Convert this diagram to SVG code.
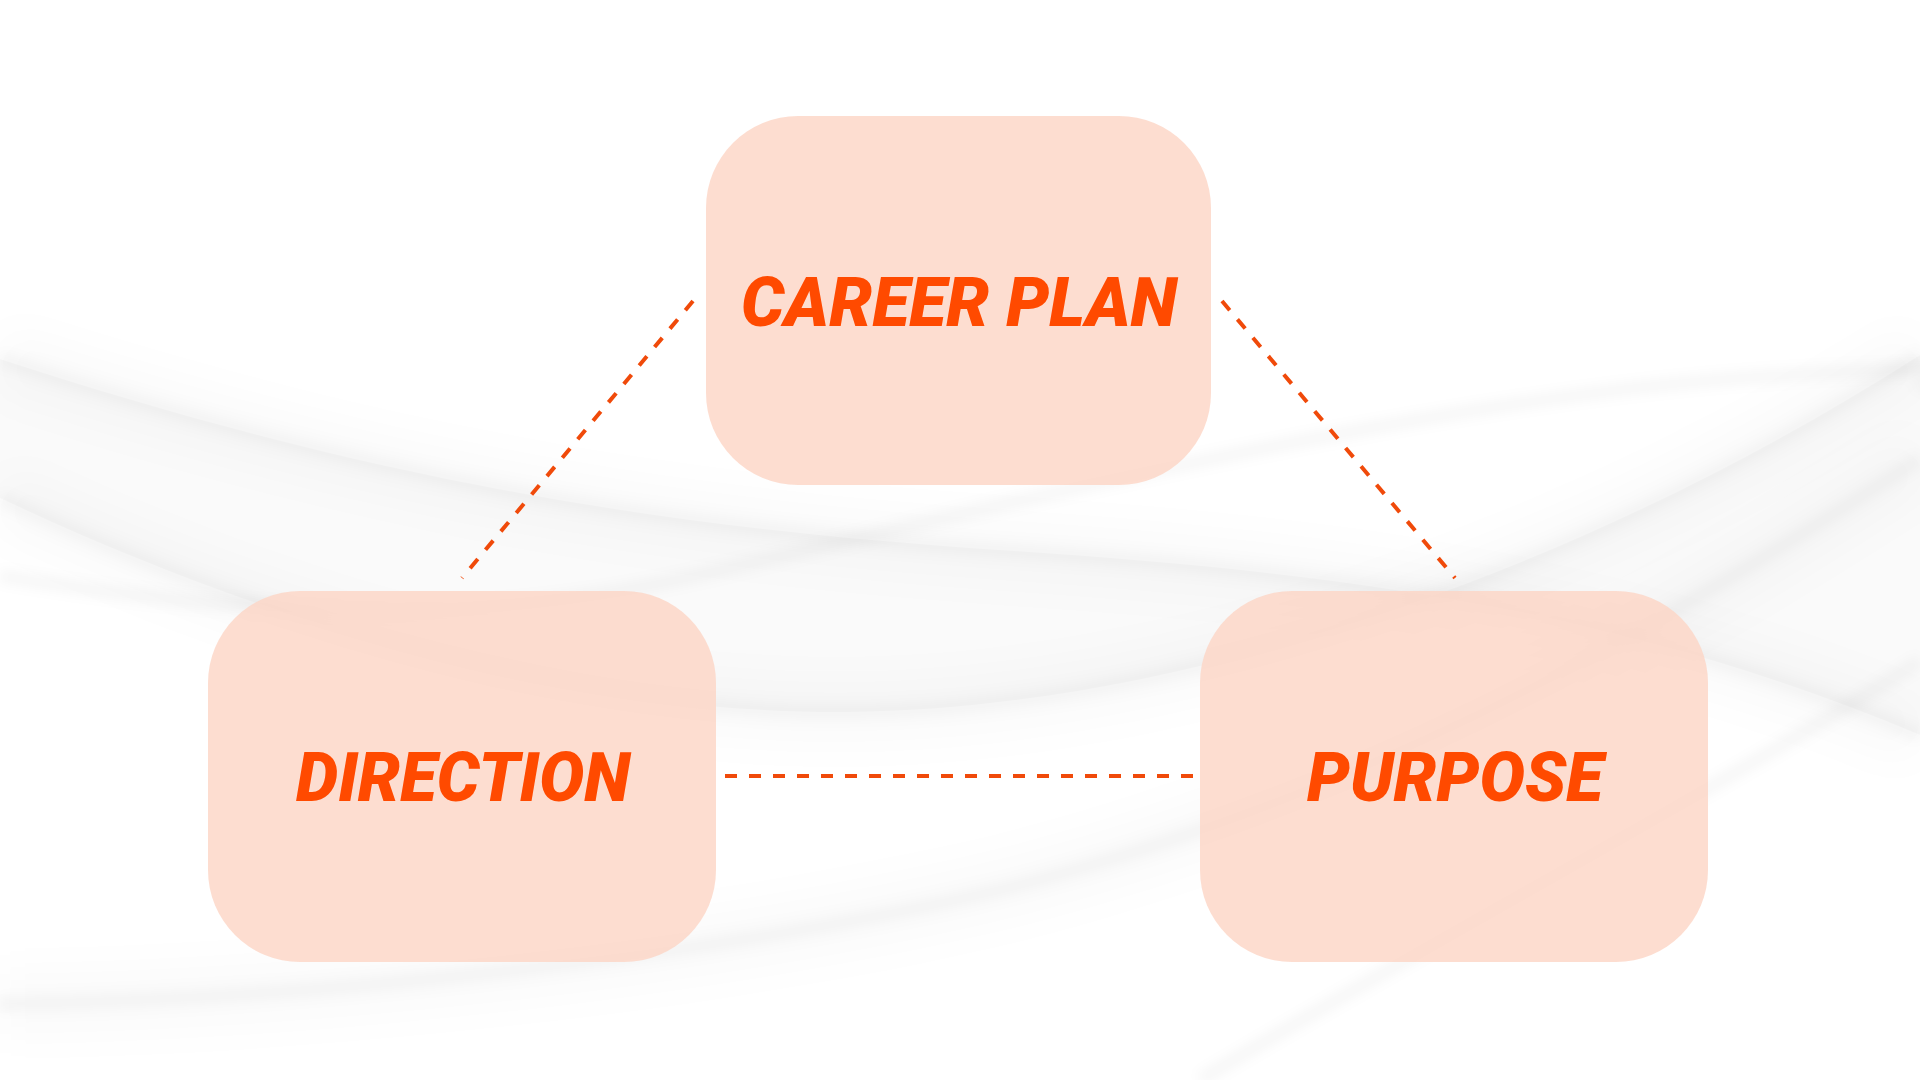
<svg xmlns="http://www.w3.org/2000/svg" width="1920" height="1080" viewBox="0 0 1920 1080">
  <style>
    .box { fill: #FDD6C6; fill-opacity: 0.82; }
    .label { font-family: Roboto, "Liberation Sans", sans-serif; font-weight: 900; font-style: italic; font-size: 68px; fill: #FF4A00; text-anchor: middle; }
    .conn { stroke: #F04A0A; stroke-width: 4; stroke-dasharray: 12 12; fill: none; }
    .wave { fill: none; stroke: #000; stroke-opacity: 0.03; stroke-width: 14; filter: url(#soft); }
    .glow { fill: none; stroke: #000; stroke-opacity: 0.018; stroke-width: 60; filter: url(#soft2); }
  </style>
  <defs>
    <filter id="soft" x="-10%" y="-20%" width="120%" height="140%">
      <feGaussianBlur stdDeviation="6"/>
    </filter>
    <filter id="soft2" x="-10%" y="-30%" width="120%" height="160%">
      <feGaussianBlur stdDeviation="20"/>
    </filter>
  </defs>

  <rect width="1920" height="1080" fill="#FFFFFF"/>

  <g id="background">
    <path fill="#000" fill-opacity="0.018" d="M0,359 C400,490 700,530 1000,550 S1600,600 1920,735 L1920,355 C1600,560 1200,708 850,712 C600,715 300,640 0,498 Z"/>
    <path class="glow" d="M0,359 C400,490 700,530 1000,550 S1600,600 1920,735"/>
    <path class="glow" d="M0,498 C300,640 600,715 850,712 C1200,708 1600,560 1920,355"/>
    <path class="glow" d="M0,1004 C300,1000 700,960 1000,890 C1400,790 1700,600 1920,459"/>
    <path class="wave" d="M0,359 C400,490 700,530 1000,550 S1600,600 1920,735"/>
    <path class="wave" d="M0,498 C300,640 600,715 850,712 C1200,708 1600,560 1920,355"/>
    <path class="wave" d="M0,576 C300,625 500,620 700,575 S1400,400 1756,377 S1920,385 1920,390"/>
    <path class="wave" d="M0,1004 C300,1000 700,960 1000,890 C1400,790 1700,600 1920,459"/>
    <path class="wave" d="M1200,1080 C1450,930 1700,800 1920,661"/>
  </g>

  <g id="connectors">
    <line class="conn" x1="693" y1="301" x2="462" y2="578"/>
    <line class="conn" x1="1222" y1="301" x2="1455" y2="578"/>
    <line class="conn" x1="725" y1="776" x2="1193" y2="776"/>
  </g>

  <g id="node-career-plan">
    <rect class="box" x="706" y="116" width="505" height="369" rx="92" ry="92"/>
    <text class="label" x="959" y="326" textLength="436" lengthAdjust="spacingAndGlyphs">CAREER PLAN</text>
  </g>

  <g id="node-direction">
    <rect class="box" x="208" y="591" width="508" height="371" rx="92" ry="92"/>
    <text class="label" x="463" y="801" textLength="334" lengthAdjust="spacingAndGlyphs">DIRECTION</text>
  </g>

  <g id="node-purpose">
    <rect class="box" x="1200" y="591" width="508" height="371" rx="92" ry="92"/>
    <text class="label" x="1455" y="801" textLength="296" lengthAdjust="spacingAndGlyphs">PURPOSE</text>
  </g>
</svg>
